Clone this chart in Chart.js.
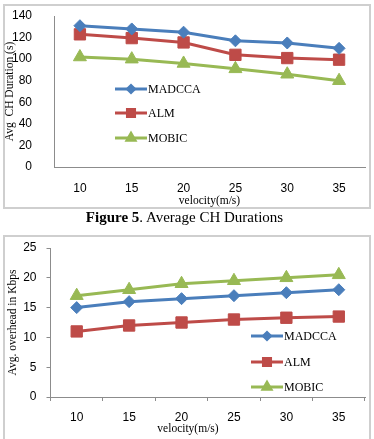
<!DOCTYPE html>
<html>
<head>
<meta charset="utf-8">
<script src="https://cdn.jsdelivr.net/npm/chart.js@4.4.1/dist/chart.umd.min.js"></script>
<style>
  html, body { margin: 0; padding: 0; background: #fff; }
  #root { position: relative; width: 374px; height: 439px; overflow: hidden; background: #fff; }
  .box { position: absolute; border: 2px solid #cfcfcf; box-sizing: border-box; }
  canvas { position: absolute; left: 0; }
  .txt { position: absolute; font-family: "Liberation Serif", "Times New Roman", serif; color: #000; white-space: nowrap; }
</style>
</head>
<body>
<div id="root">
  <div class="box" style="left:3px; top:4px; width:368px; height:205px;"></div>
  <div class="box" style="left:3px; top:235px; width:368px; height:215px;"></div>
  <canvas id="c1" style="top:0px;" width="374" height="210"></canvas>
  <canvas id="c2" style="top:210px;" width="374" height="229"></canvas>
  <div class="txt" style="left:0; width:369px; top:207px; text-align:center; font-size:15px; line-height:20px;"><b>Figure 5</b>. Average CH Durations</div>
  <div class="txt" id="xt2" style="left:128px; width:120px; top:421px; text-align:center; font-size:11.5px; line-height:15px;">velocity(m/s)</div>
</div>
<script>
// ---- data ----
const velocities = ["10", "15", "20", "25", "30", "35"];
const seriesNames = ["MADCCA", "ALM", "MOBIC"];

const durMADCCA = [131, 128, 125, 117, 115, 110];
const durALM    = [123, 119.5, 115.5, 104, 101, 99.5];
const durMOBIC  = [102, 100, 96, 91, 86, 80];

const ovhMADCCA = [15, 16, 16.5, 17, 17.5, 18];
const ovhALM    = [11, 12, 12.5, 13, 13.3, 13.5];
const ovhMOBIC  = [17, 18, 19, 19.5, 20, 20.5];

const durTickMax = 140, durTickStep = 20;
const ovhTickMax = 25, ovhTickStep = 5;

// ---- styles ----
const colors = ["#4A7EBB", "#BE4B48", "#98B954"];
const styles = ["rectRot", "rect", "triangle"];
const radii = [6, 8, 7.5];
const legendRadii = [3.5, 5, 4.5];
const tickFont = { family: "'Liberation Sans', Arial, sans-serif", size: 12 };
const serif = "'Liberation Serif', 'Times New Roman', serif";
const axisColor = "#8c8c8c";

function makeDatasets(arrs) {
  return arrs.map((d, i) => ({
    label: seriesNames[i],
    data: d,
    borderColor: colors[i],
    backgroundColor: colors[i],
    borderWidth: 3,
    pointStyle: styles[i],
    pointRadius: radii[i],
    pointHoverRadius: radii[i],
    pointBorderWidth: 1,
    pointBackgroundColor: colors[i],
    pointBorderColor: colors[i],
    tension: 0,
    fill: false
  }));
}

const insideLegend = {
  id: 'insideLegend',
  afterDatasetsDraw(chart, args, opts) {
    const ctx = chart.ctx;
    ctx.save();
    chart.data.datasets.forEach((ds, i) => {
      const y = opts.rows[i];
      ctx.strokeStyle = ds.borderColor;
      ctx.lineWidth = 3;
      ctx.beginPath();
      ctx.moveTo(opts.x0, y);
      ctx.lineTo(opts.x1, y);
      ctx.stroke();
      ctx.fillStyle = ds.borderColor;
      Chart.helpers.drawPoint(ctx, { pointStyle: ds.pointStyle, radius: legendRadii[i], rotation: 0, borderWidth: 1 }, (opts.x0 + opts.x1) / 2, y);
      ctx.fillStyle = '#000';
      ctx.font = "12px " + serif;
      ctx.textBaseline = 'middle';
      ctx.textAlign = 'left';
      ctx.fillText(ds.label, opts.tx, y + 1);
    });
    ctx.restore();
  }
};

// ---- chart 1 ----
new Chart(document.getElementById('c1'), {
  type: 'line',
  data: { labels: velocities, datasets: makeDatasets([durMADCCA, durALM, durMOBIC]) },
  plugins: [insideLegend],
  options: {
    responsive: false,
    animation: false,
    layout: { padding: { left: 0, right: 6, top: 16, bottom: 0 } },
    plugins: {
      legend: { display: false },
      tooltip: { enabled: false },
      insideLegend: { x0: 115, x1: 147, tx: 148, rows: [89, 113, 138] }
    },
    scales: {
      x: {
        offset: true,
        grid: { display: true, drawOnChartArea: false, drawTicks: true, tickLength: 10, color: 'rgba(0,0,0,0)' },
        border: { display: true, color: axisColor, width: 1 },
        ticks: { color: '#000', font: tickFont, padding: 4, maxRotation: 0 },
        title: { display: true, text: 'velocity(m/s)', color: '#000', font: { family: serif, size: 11.5 }, padding: { top: 0, bottom: 2 } },
        afterFit(s) { s.height = 43; }
      },
      y: {
        min: 0, max: durTickMax,
        grid: { display: true, drawOnChartArea: false, drawTicks: true, tickLength: 18, color: 'rgba(0,0,0,0)' },
        border: { display: true, color: axisColor, width: 1 },
        ticks: { stepSize: durTickStep, color: '#000', font: tickFont, padding: 4 },
        title: { display: true, text: 'Avg  CH Duration (s)', color: '#000', font: { family: serif, size: 11.5 }, padding: { top: 3.5, bottom: 0 } },
        afterFit(s) { s.width = 54; }
      }
    }
  }
});

// ---- chart 2 ----
new Chart(document.getElementById('c2'), {
  type: 'line',
  data: { labels: velocities, datasets: makeDatasets([ovhMADCCA, ovhALM, ovhMOBIC]) },
  plugins: [insideLegend],
  options: {
    responsive: false,
    animation: false,
    layout: { padding: { left: 0, right: 5.5, top: 38, bottom: 0 } },
    plugins: {
      legend: { display: false },
      tooltip: { enabled: false },
      insideLegend: { x0: 251, x1: 283, tx: 284, rows: [126, 152, 177] }
    },
    scales: {
      x: {
        offset: true,
        grid: { display: true, drawOnChartArea: false, drawTicks: true, tickLength: 4, color: axisColor, offset: true },
        border: { display: true, color: axisColor, width: 1 },
        ticks: { color: '#000', font: tickFont, padding: 9, maxRotation: 0 },
        title: { display: false },
        afterFit(s) { s.height = 42; }
      },
      y: {
        min: 0, max: ovhTickMax,
        grid: { display: true, drawOnChartArea: false, drawTicks: true, tickLength: 4, color: axisColor },
        border: { display: true, color: axisColor, width: 1 },
        ticks: { stepSize: ovhTickStep, color: '#000', font: tickFont, padding: 10 },
        title: { display: true, text: 'Avg. overhead in Kbps', color: '#000', font: { family: serif, size: 11.5 }, padding: { top: 6, bottom: 0 } },
        afterFit(s) { s.width = 50.5; }
      }
    }
  }
});
</script>
</body>
</html>
